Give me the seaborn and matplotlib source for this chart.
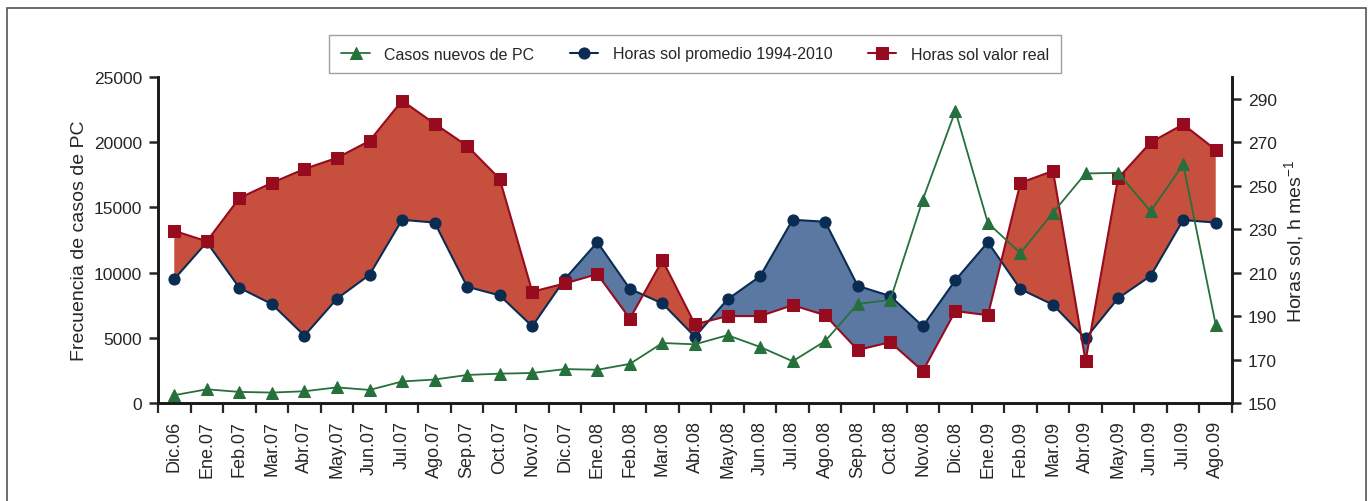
import numpy as np
import pandas as pd
import matplotlib
matplotlib.use("Agg")
import matplotlib.pyplot as plt
import seaborn as sns
from matplotlib.patches import Rectangle

# data
meses = ["Dic.06", "Ene.07", "Feb.07", "Mar.07", "Abr.07", "May.07", "Jun.07", "Jul.07",
         "Ago.07", "Sep.07", "Oct.07", "Nov.07", "Dic.07", "Ene.08", "Feb.08", "Mar.08",
         "Abr.08", "May.08", "Jun.08", "Jul.08", "Ago.08", "Sep.08", "Oct.08", "Nov.08",
         "Dic.08", "Ene.09", "Feb.09", "Mar.09", "Abr.09", "May.09", "Jun.09", "Jul.09", "Ago.09"]
casos_pc = [600, 1050, 850, 800, 900, 1200, 1000, 1650, 1800, 2150, 2250, 2300,
            2600, 2550, 3000, 4600, 4500, 5200, 4300, 3200, 4750, 7600, 7900, 15600,
            22400, 13800, 11500, 14600, 17600, 17650, 14700, 18300, 6000]
sol_promedio = [207, 224, 203, 195.5, 181, 198, 209, 234.3, 233, 203.5, 199.5, 185.3,
                207, 224, 202.5, 195.8, 180.5, 197.7, 208.3, 234.3, 233.4, 203.9, 199.2, 185.3,
                206.5, 224, 202.4, 195.2, 179.7, 198.2, 208.5, 234.2, 233]
sol_real = [229.2, 224.4, 244.3, 251.3, 257.7, 262.8, 270.6, 289.1, 278.5, 268.3, 253.1, 201.2,
            205, 209.3, 188.8, 215.7, 186.2, 190, 190, 195, 190.4, 174.4, 178, 164.7,
            192.3, 190.4, 251.3, 256.8, 169.3, 253.4, 269.9, 278.2, 266.5]

df = pd.DataFrame({"mes": meses, "casos": casos_pc,
                   "promedio": sol_promedio, "real": sol_real})
df["i"] = np.arange(len(df))

sns.set_style("ticks")
plt.rcParams["font.family"] = ["Liberation Sans", "DejaVu Sans"]

verde = "#26703b"
azul = "#0b2c52"
rojo = "#960b1d"
relleno_rojo = "#c64f3d"
relleno_azul = "#5b78a2"

fig = plt.figure(figsize=(13.7, 5.02), dpi=100)
ax = fig.add_axes([158 / 1370, 1 - 404 / 502, (1232 - 158) / 1370, (404 - 78) / 502])
ax2 = ax.twinx()

# sunshine hours on the right axis
x = df["i"].values
r = df["real"].values
p = df["promedio"].values
ax2.fill_between(x, r, p, where=r >= p, interpolate=True, color=relleno_rojo, lw=0)
ax2.fill_between(x, r, p, where=r <= p, interpolate=True, color=relleno_azul, lw=0)
sns.lineplot(data=df, x="i", y="promedio", ax=ax2, color=azul, lw=1.5, marker="o",
             markersize=8, markeredgecolor=azul, label="Horas sol promedio 1994-2010", legend=False)
sns.lineplot(data=df, x="i", y="real", ax=ax2, color=rojo, lw=1.5, marker="s",
             markersize=8, markeredgecolor=rojo, label="Horas sol valor real", legend=False)

# cases on the left axis, drawn on top
sns.lineplot(data=df, x="i", y="casos", ax=ax, color=verde, lw=1.3, marker="^",
             markersize=8.5, markeredgecolor=verde, label="Casos nuevos de PC", legend=False)
ax.set_zorder(ax2.get_zorder() + 1)
ax.patch.set_visible(False)

ax.set_xlim(-0.5, len(meses) - 0.5)
ax.set_ylim(0, 25000)
ax.set_yticks(range(0, 25001, 5000))
ax2.set_ylim(150, 300)
ax2.set_yticks(range(150, 291, 20))

ax.set_xticks(x)
ax.set_xticklabels(meses, rotation=90)
ax.set_xticks(np.arange(-0.5, len(meses)), minor=True)
ax.tick_params(axis="x", which="major", length=0, pad=12, labelsize=13)
ax.tick_params(axis="x", which="minor", length=7.5, width=1.6, direction="out")
ax.tick_params(axis="y", length=6.5, width=1.8, labelsize=12.5, pad=5)
ax2.tick_params(axis="y", length=6.5, width=1.8, labelsize=12.5, pad=5)

ax.set_xlabel("")
ax.set_ylabel("Frecuencia de casos de PC", fontsize=14, labelpad=4)
ax2.set_xlabel("")
ax2.set_ylabel(r"Horas sol, h mes$^{\mathregular{-1}}$", fontsize=14, labelpad=4)

for a in (ax, ax2):
    a.spines["top"].set_visible(False)
    for s in ("left", "right", "bottom"):
        a.spines[s].set_linewidth(1.9)
        a.spines[s].set_color("#1a1a1a")

h1, l1 = ax.get_legend_handles_labels()
h2, l2 = ax2.get_legend_handles_labels()
leg = fig.legend(h1 + h2, l1 + l2, loc="center", bbox_to_anchor=(695 / 1370, 1 - 55 / 502),
                 ncol=3, fontsize=11.5, frameon=True, fancybox=False, edgecolor="#888888",
                 handlelength=1.8, columnspacing=2.2, borderpad=0.75, handletextpad=0.9)
leg.get_frame().set_linewidth(1.0)

# thin grey frame around the whole figure (open at the bottom)
fig.patches.append(Rectangle((7 / 1370, -0.2), (1366 - 7) / 1370, 1.2 - 9 / 502,
                             transform=fig.transFigure, fill=False,
                             edgecolor="#555555", lw=1.2))

fig.savefig("out.png", dpi=100)
